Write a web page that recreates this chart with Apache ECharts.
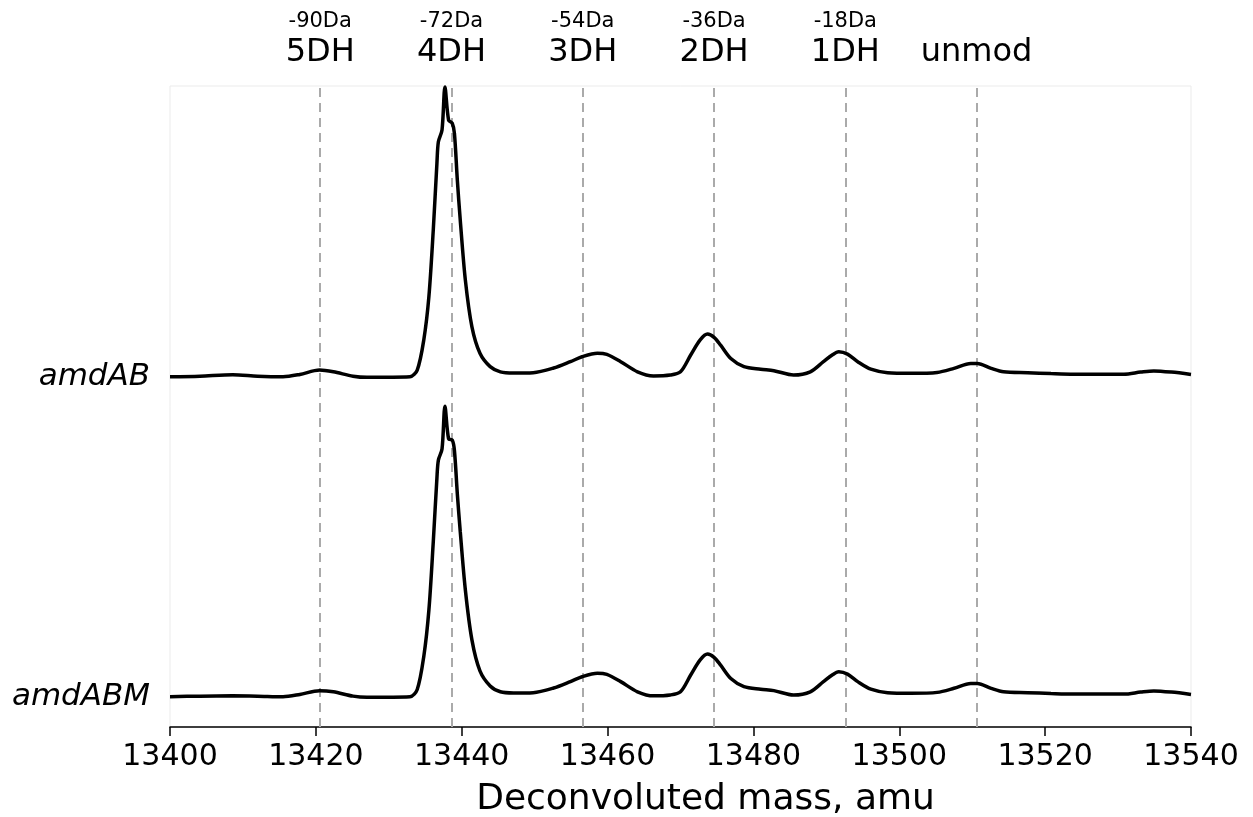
<!DOCTYPE html>
<html>
<head>
<meta charset="utf-8">
<script src="https://cdn.jsdelivr.net/npm/echarts@6/dist/echarts.min.js"></script>
<style>
html,body{margin:0;padding:0;background:#fff;}
#chart{width:1253px;height:817px;}
</style>
</head>
<body>
<div id="chart"></div>
<script>
// Mass axis values (amu) at which intensities were read
const masses = [13400.0,13404.1,13408.6,13412.0,13415.5,13417.8,13420.5,13422.4,13425.1,13427.0,13432.9,13433.9,13434.8,13435.5,13436.1,13436.6,13436.8,13437.3,13437.7,13438.2,13438.7,13439.0,13439.4,13439.8,13440.5,13441.4,13442.5,13443.9,13445.3,13447.1,13449.8,13452.6,13454.9,13456.5,13458.6,13459.9,13461.8,13464.1,13466.3,13468.6,13470.0,13471.4,13472.7,13473.7,13474.6,13475.5,13476.9,13478.7,13481.0,13482.8,13485.5,13487.8,13489.6,13490.8,13491.7,13492.9,13494.3,13496.1,13498.4,13501.6,13505.2,13507.5,13509.8,13510.7,13512.6,13514.3,13517.6,13520.8,13523.9,13530.8,13533.1,13534.9,13537.3,13540.0];
// Normalised intensity (%) of each sample
const amdAB = [0.1,0.3,0.8,0.3,0.1,0.9,2.4,1.8,0.3,-0.1,0.1,2.4,12.8,27.7,50.7,73.7,81.1,85.2,100.0,88.6,87.5,84.0,67.9,54.1,33.4,17.3,8.2,3.6,1.8,1.4,1.5,3.1,5.3,7.0,8.2,7.8,5.3,1.8,0.4,0.7,1.8,7.6,12.8,14.8,13.7,11.0,6.4,3.6,2.7,2.2,0.7,1.8,5.3,7.6,8.7,7.9,5.3,2.7,1.5,1.3,1.6,3.0,4.7,4.7,3.0,1.8,1.5,1.2,1.0,1.0,1.7,2.1,1.7,0.9];
const amdABM = [0.1,0.3,0.4,0.3,0.1,0.9,2.2,1.8,0.3,-0.1,0.1,2.6,14.0,30.0,53.5,75.5,81.7,85.5,100.3,89.0,88.6,85.0,70.0,57.0,36.9,19.7,9.0,3.8,1.8,1.4,1.5,3.1,5.3,7.0,8.2,7.8,5.3,1.8,0.4,0.7,1.8,7.6,12.8,14.8,13.7,11.0,6.4,3.6,2.7,2.2,0.7,1.8,5.3,7.6,8.7,7.9,5.3,2.7,1.5,1.3,1.6,3.0,4.7,4.7,3.0,1.8,1.5,1.2,1.0,1.0,1.7,2.1,1.7,0.9];
const sampleNames = ['amdAB', 'amdABM'];
// Dehydration marker positions and their labels
const markerMasses = [13420.6, 13438.6, 13456.6, 13474.6, 13492.6, 13510.6];
const markerNames = ['5DH', '4DH', '3DH', '2DH', '1DH', 'unmod'];
const markerShifts = ['-90Da', '-72Da', '-54Da', '-36Da', '-18Da', ''];
const xTicks = [13400, 13420, 13440, 13460, 13480, 13500, 13520, 13540];

const FONT = 'DejaVu Sans';
const OFFSET = 110.34;           // vertical stacking offset of the upper trace
const Y_MIN = -10.34, Y_MAX = 210.7;

const chart = echarts.init(document.getElementById('chart'));

const lower = masses.map((m, i) => [m, amdABM[i]]);
const upper = masses.map((m, i) => [m, amdAB[i] + OFFSET]);
const labelVals = [0, OFFSET];

chart.setOption({
  backgroundColor: '#ffffff',
  animation: false,
  grid: { left: 170, right: 62, top: 86, bottom: 90, show: true, borderColor: '#ebebeb', borderWidth: 1,
          containLabel: false, outerBoundsMode: 'none' },
  xAxis: {
    type: 'value', min: xTicks[0], max: xTicks[xTicks.length - 1], interval: 20,
    name: 'Deconvoluted mass, amu', nameLocation: 'middle', nameGap: 55,
    nameTextStyle: { fontFamily: FONT, fontSize: 36, color: '#000', padding: [0, 0, 0, 50] },
    axisLine: { show: true, onZero: false, lineStyle: { color: '#000', width: 1.5 } },
    axisTick: { show: true, length: 9, inside: false, lineStyle: { color: '#000', width: 1.5 } },
    axisLabel: { fontFamily: FONT, fontSize: 30, color: '#000', margin: 15, formatter: v => String(v) },
    splitLine: { show: false }
  },
  yAxis: {
    type: 'value', min: Y_MIN, max: Y_MAX,
    axisLine: { show: false }, axisTick: { show: false }, splitLine: { show: false },
    axisLabel: {
      show: true, customValues: labelVals, margin: 20,
      fontFamily: FONT, fontSize: 31, fontStyle: 'italic', color: '#000',
      formatter: v => (Math.abs(v) < 1e-6 ? sampleNames[1] : sampleNames[0])
    }
  },
  series: [
    {
      type: 'line', data: upper, showSymbol: false, smooth: 0.3,
      lineStyle: { color: '#000', width: 3.5 }, z: 3,
      markLine: {
        silent: true, symbol: 'none', z: 1,
        lineStyle: { color: '#aaaaaa', type: [9, 6], width: 2 },
        label: {
          show: true, position: 'end', distance: 16, color: '#000', fontFamily: FONT,
          rich: {
            s: { fontFamily: FONT, fontSize: 21, lineHeight: 29, color: '#000' },
            b: { fontFamily: FONT, fontSize: 32, lineHeight: 34, color: '#000' }
          }
        },
        data: markerMasses.map((m, i) => ({
          xAxis: m,
          label: { formatter: markerShifts[i] ? '{s|' + markerShifts[i] + '}\n{b|' + markerNames[i] + '}' : '{b|' + markerNames[i] + '}' }
        }))
      }
    },
    {
      type: 'line', data: lower, showSymbol: false, smooth: 0.3,
      lineStyle: { color: '#000', width: 3.5 }, z: 3
    }
  ]
});
</script>
</body>
</html>
